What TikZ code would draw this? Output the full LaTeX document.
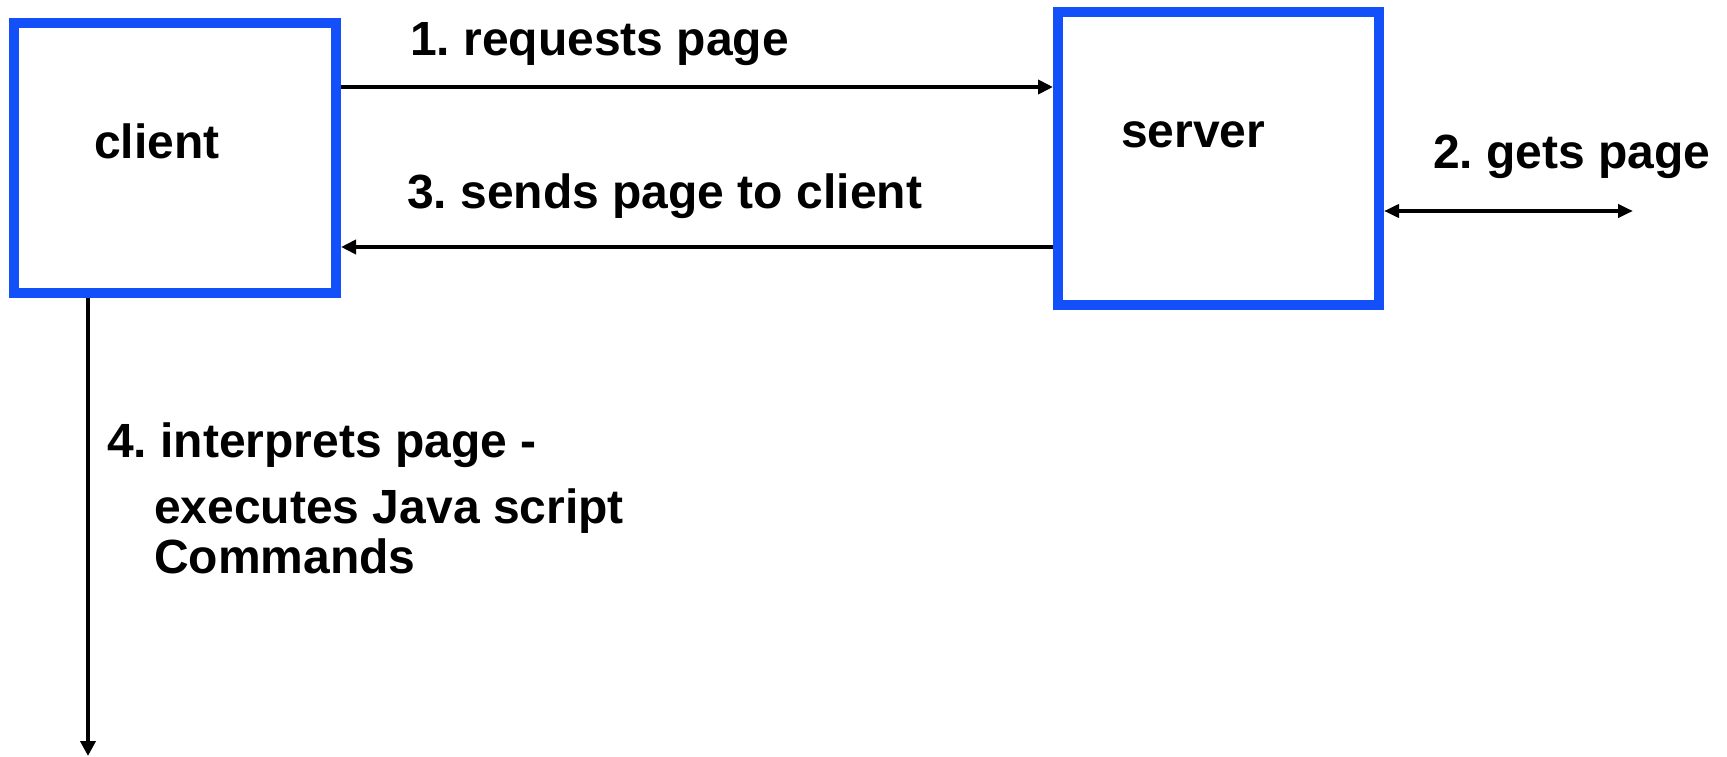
\documentclass[tikz,border=0pt]{standalone}
\usepackage{fontspec}
\setmainfont{Liberation Sans}
\usetikzlibrary{arrows.meta}
\definecolor{boxblue}{RGB}{20,80,250}
\frenchspacing
\tikzset{
  box/.style={draw=boxblue, line width=10pt, fill=white, inner sep=0pt, rectangle},
  lbl/.style={anchor=base west, inner sep=0pt, font=\fontsize{48}{57}\selectfont\bfseries},
  conn/.style={line width=4.5pt, -{Triangle[length=15pt,width=14pt]}},
  dconn/.style={line width=4pt, {Triangle[length=15pt,width=13pt]}-{Triangle[length=15pt,width=13pt]}}
}
\begin{document}
\begin{tikzpicture}[x=1pt,y=-1pt]
\useasboundingbox (0,0) rectangle (1727,757);
\node[box, minimum width=322pt, minimum height=270pt] (client) at (175,158) {};
\node[box, minimum width=321pt, minimum height=293pt] (server) at (1218.5,158.5) {};
\node[lbl] (clientlbl) at (94,158) {client};
\node[lbl] (serverlbl) at (1121,147) {server};
\node[lbl] (l1) at (410,56) {1. requests page};
\node[lbl] (l3) at (407,208) {3. sends page to client};
\node[lbl] (l2) at (1433,168) {2. gets page};
\node[lbl] (l4a) at (107,457) {4. interprets page -};
\node[lbl] (l4b) at (154,523) {executes Java script};
\node[lbl] (l4c) at (154,573) {Commands};
\coordinate (y1) at (0,87);
\coordinate (y3) at (0,247);
\coordinate (gend) at (1633,211);
\coordinate (down) at (88,756);
\draw[conn] (client.east |- y1) -- (server.west |- y1);
\draw[conn] (server.west |- y3) -- (client.east |- y3);
\draw[dconn] (server.east |- gend) -- (gend);
\draw[line width=4pt, -{Triangle[length=15pt,width=15pt]}] (client.south -| down) -- (down);
\end{tikzpicture}
\end{document}
